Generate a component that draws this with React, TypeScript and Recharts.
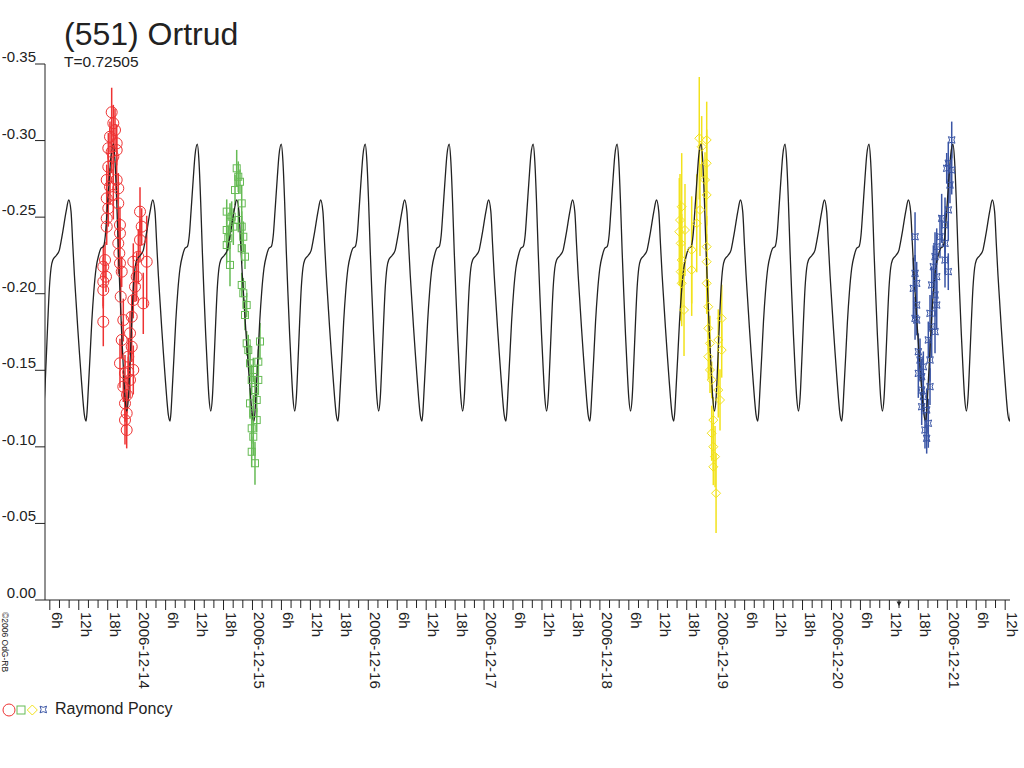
import { ComposedChart, Line, Scatter, XAxis, YAxis, ErrorBar } from 'recharts';

const TITLE = '(551) Ortrud';
const SUBTITLE = 'T=0.72505';
const OBSERVER = 'Raymond Poncy';
const CREDIT = '©2006 OdG-RB';

// time is in hours since 2006-12-13 00:00
const X_DOMAIN = [5, 205];
const Y_TICKS = [-0.35, -0.3, -0.25, -0.2, -0.15, -0.1, -0.05, 0];
const DAY_LABELS = ['2006-12-14', '2006-12-15', '2006-12-16', '2006-12-17', '2006-12-18', '2006-12-19', '2006-12-20', '2006-12-21'];
const MARK_HOUR = 182;

// model light curve: one rotation, phase 0 = primary maximum
const PERIOD_DAYS = 0.72505;
const MAX_HOUR = 53.97;
const profilePhase = [0, 0.02, 0.04, 0.06, 0.08, 0.1, 0.119, 0.139, 0.16, 0.179, 0.199, 0.219, 0.238, 0.258, 0.279, 0.318, 0.357, 0.377, 0.398, 0.437, 0.469, 0.496, 0.517, 0.536, 0.556, 0.576, 0.595, 0.615, 0.636, 0.655, 0.675, 0.687, 0.702, 0.723, 0.743, 0.767, 0.794, 0.826, 0.854, 0.881, 0.905, 0.925, 0.952, 0.973];
const profileMag = [-0.2976, -0.2862, -0.2601, -0.2274, -0.1992, -0.173, -0.1515, -0.1319, -0.1234, -0.1319, -0.1556, -0.1817, -0.2037, -0.2168, -0.222, -0.2248, -0.2285, -0.234, -0.2405, -0.2536, -0.2612, -0.2536, -0.2318, -0.2122, -0.1948, -0.1774, -0.1621, -0.1469, -0.1317, -0.1208, -0.1169, -0.123, -0.1382, -0.16, -0.1817, -0.2013, -0.2166, -0.2253, -0.2297, -0.2307, -0.2383, -0.2536, -0.2754, -0.2906];

// observations (Raymond Poncy), four sessions
const redHours = [18.82, 19.16, 19.51, 18.47, 19.86, 18.12, 18.82, 19.16, 19.86, 18.12, 17.79, 19.86, 18.47, 20.19, 17.79, 19.16, 20.19, 18.12, 17.79, 17.79, 17.44, 17.08, 17.64, 17.08, 17.08, 17.08, 20.54, 20.54, 20.19, 20.4, 20.54, 20.9, 20.69, 21.23, 20.9, 20.54, 21.58, 21.23, 21.58, 21.93, 21.58, 21.93, 22.62, 22.97, 22.26, 23.3, 22.62, 22.97, 23.3, 23.65, 24.0, 23.3, 24.34, 24.69, 25.04, 24.69, 26.08, 25.37, 22.0, 22.26];
const redMags = [-0.3185, -0.3113, -0.3069, -0.3025, -0.2982, -0.295, -0.2927, -0.2895, -0.2938, -0.2829, -0.2743, -0.2743, -0.2699, -0.2688, -0.2623, -0.2645, -0.259, -0.2558, -0.2492, -0.2438, -0.222, -0.2176, -0.2111, -0.2078, -0.2024, -0.1817, -0.2449, -0.2395, -0.2329, -0.2264, -0.2199, -0.2144, -0.1981, -0.1828, -0.1698, -0.1546, -0.148, -0.1393, -0.1284, -0.1219, -0.1175, -0.111, -0.1742, -0.1654, -0.1589, -0.1502, -0.1437, -0.185, -0.1959, -0.2046, -0.2111, -0.2209, -0.2242, -0.2351, -0.2438, -0.2536, -0.2209, -0.1937, -0.1339, -0.1489];
const redErr = [0.016, 0.012, 0.014, 0.01, 0.012, 0.01, 0.014, 0.012, 0.01, 0.012, 0.01, 0.014, 0.012, 0.01, 0.012, 0.016, 0.01, 0.012, 0.01, 0.012, 0.012, 0.014, 0.01, 0.016, 0.012, 0.016, 0.012, 0.01, 0.02, 0.012, 0.014, 0.01, 0.012, 0.014, 0.012, 0.016, 0.012, 0.01, 0.012, 0.014, 0.016, 0.012, 0.014, 0.01, 0.012, 0.016, 0.012, 0.014, 0.012, 0.01, 0.016, 0.012, 0.018, 0.014, 0.012, 0.016, 0.03, 0.02, 0.012, 0.01];

const greenHours = [44.73, 45.06, 45.41, 44.38, 45.77, 42.66, 43.69, 43.34, 45.06, 42.66, 44.03, 45.77, 42.99, 46.1, 42.66, 45.77, 46.45, 43.34, 45.77, 46.1, 46.8, 46.45, 46.8, 47.13, 47.49, 48.17, 47.84, 48.52, 47.49, 48.17, 48.88, 47.84, 48.17, 47.84, 48.52, 49.56, 49.21, 49.21, 48.88];
const greenMags = [-0.2819, -0.2764, -0.2731, -0.2677, -0.259, -0.2536, -0.2503, -0.247, -0.2481, -0.2416, -0.2438, -0.2438, -0.2362, -0.2372, -0.2318, -0.2297, -0.2242, -0.2188, -0.2057, -0.2003, -0.1926, -0.1861, -0.1676, -0.1632, -0.1546, -0.1502, -0.1437, -0.1371, -0.1284, -0.1219, -0.1175, -0.1121, -0.1066, -0.0968, -0.0893, -0.1688, -0.1556, -0.1437, -0.1306];
const greenErr = [0.012, 0.01, 0.008, 0.01, 0.012, 0.008, 0.01, 0.012, 0.008, 0.01, 0.012, 0.01, 0.008, 0.01, 0.012, 0.01, 0.008, 0.014, 0.008, 0.01, 0.008, 0.01, 0.008, 0.01, 0.012, 0.008, 0.01, 0.008, 0.01, 0.012, 0.008, 0.01, 0.012, 0.01, 0.014, 0.012, 0.008, 0.01, 0.008];

const yellowHours = [140.6, 142.14, 141.1, 142.14, 141.79, 142.14, 140.75, 136.96, 136.61, 136.46, 137.64, 140.07, 136.75, 139.03, 142.14, 136.96, 142.14, 136.75, 139.03, 136.96, 142.14, 137.44, 142.47, 142.47, 145.25, 142.82, 144.54, 142.47, 145.25, 142.82, 143.18, 144.54, 144.9, 143.51, 143.18, 143.51, 143.87, 143.51, 144.08];
const yellowMags = [-0.3015, -0.3004, -0.296, -0.2852, -0.2743, -0.2645, -0.2547, -0.2568, -0.2481, -0.2405, -0.2416, -0.246, -0.2329, -0.2286, -0.2307, -0.222, -0.2209, -0.2144, -0.2155, -0.2068, -0.2068, -0.1894, -0.1915, -0.1774, -0.1839, -0.1676, -0.1698, -0.1589, -0.1632, -0.1502, -0.1437, -0.1371, -0.1306, -0.1175, -0.1089, -0.1001, -0.0936, -0.087, -0.0697];
const yellowErr = [0.04, 0.025, 0.02, 0.022, 0.018, 0.02, 0.03, 0.035, 0.03, 0.035, 0.03, 0.032, 0.028, 0.035, 0.02, 0.03, 0.018, 0.032, 0.03, 0.028, 0.02, 0.03, 0.018, 0.015, 0.022, 0.018, 0.02, 0.015, 0.018, 0.015, 0.012, 0.018, 0.02, 0.015, 0.018, 0.015, 0.02, 0.012, 0.026];

const blueHours = [192.92, 192.21, 191.88, 192.92, 192.56, 192.21, 190.84, 191.53, 190.49, 191.53, 189.81, 189.46, 191.53, 192.21, 189.11, 189.81, 188.77, 189.46, 189.81, 188.42, 188.77, 189.46, 188.07, 185.32, 185.32, 185.66, 184.96, 185.66, 185.32, 185.66, 186.0, 186.35, 187.04, 186.0, 186.7, 188.42, 188.42, 186.7, 187.04, 187.73, 186.7, 188.07, 187.38, 187.73];
const blueMags = [-0.3004, -0.2852, -0.2819, -0.2808, -0.271, -0.2547, -0.2492, -0.2449, -0.2372, -0.2329, -0.2307, -0.2242, -0.222, -0.2144, -0.2176, -0.2111, -0.2057, -0.1992, -0.1926, -0.1872, -0.1785, -0.1752, -0.1698, -0.2372, -0.2133, -0.2068, -0.2035, -0.1926, -0.1839, -0.1828, -0.1621, -0.1567, -0.1523, -0.148, -0.1458, -0.1567, -0.1393, -0.1371, -0.1328, -0.1241, -0.1262, -0.1154, -0.111, -0.1056];
const blueErr = [0.012, 0.014, 0.01, 0.016, 0.012, 0.02, 0.016, 0.018, 0.014, 0.02, 0.012, 0.016, 0.018, 0.012, 0.014, 0.02, 0.012, 0.014, 0.016, 0.012, 0.02, 0.014, 0.012, 0.016, 0.012, 0.014, 0.02, 0.012, 0.014, 0.01, 0.012, 0.014, 0.01, 0.016, 0.012, 0.014, 0.012, 0.016, 0.01, 0.014, 0.012, 0.016, 0.012, 0.01];

const RED = '#ee3333';
const GREEN = '#66bb55';
const YELLOW = '#f2e21c';
const BLUE = '#3a55a5';
const INK = '#222';
const FONT = '"Liberation Sans", Arial, sans-serif';

const toPoints = (hs: number[], vs: number[], es: number[]) =>
  hs.map((h, i) => ({ h, v: vs[i], e: es[i] }));

const PERIOD_H = PERIOD_DAYS * 24;
const modelData: { h: number; v: number }[] = [];
for (let k = -3; k <= 8; k++) {
  profilePhase.forEach((ph, i) => {
    modelData.push({ h: MAX_HOUR + (k + ph) * PERIOD_H, v: profileMag[i] });
  });
}

const xTicks: number[] = [];
for (let hr = 6; hr <= 204; hr += 2) xTicks.push(hr);

const CircleMark = (p: any) => <circle cx={p.cx} cy={p.cy} r={5.5} fill="none" stroke={RED} />;
const SquareMark = (p: any) => (
  <rect x={p.cx - 3.5} y={p.cy - 3.5} width={7} height={7} fill="none" stroke={GREEN} />
);
const diamondPath = (x: number, y: number, s: number) =>
  `M${x},${y - s}L${x + s},${y}L${x},${y + s}L${x - s},${y}Z`;
const DiamondMark = (p: any) => <path d={diamondPath(p.cx, p.cy, 4.5)} fill="none" stroke={YELLOW} />;
const starPath = (x: number, y: number) =>
  `M${x - 3.3},${y - 3.3}Q${x},${y - 1} ${x + 3.3},${y - 3.3}Q${x + 1},${y} ${x + 3.3},${y + 3.3}Q${x},${y + 1} ${x - 3.3},${y + 3.3}Q${x - 1},${y} ${x - 3.3},${y - 3.3}Z`;
const StarMark = (p: any) => <path d={starPath(p.cx, p.cy)} fill="none" stroke={BLUE} />;

const XTick = ({ x, y, payload }: any) => {
  const hr = payload.value;
  const hod = hr % 24;
  const major = hod % 6 === 0;
  const label = !major ? null : hod === 0 ? DAY_LABELS[hr / 24 - 1] : `${hod}h`;
  return (
    <g>
      <line x1={x} y1={y} x2={x} y2={y + (major ? 10 : 8)} stroke={INK} />
      {hr === MARK_HOUR && <path d={`M${x - 2.5},${y + 1.5}L${x + 2.5},${y + 1.5}L${x},${y + 6}Z`} fill={INK} />}
      {label && (
        <text
          x={x + 2}
          y={y + 12}
          transform={`rotate(90 ${x + 2} ${y + 12})`}
          fontSize={15}
          fontFamily={FONT}
          fill={INK}
        >
          {label}
        </text>
      )}
    </g>
  );
};

const YTick = ({ x, y, payload }: any) => (
  <g>
    <line x1={x - 10} y1={y} x2={x} y2={y} stroke={INK} />
    <text x={x - 9} y={y - 2} textAnchor="end" fontSize={15} fontFamily={FONT} fill={INK}>
      {payload.value.toFixed(2)}
    </text>
  </g>
);

export default function App() {
  return (
    <div style={{ position: 'absolute', left: 0, top: 0, width: 1024, height: 768, background: '#fff' }}>
      <ComposedChart width={1024} height={768} margin={{ top: 64, right: 14, bottom: 0, left: 0 }}>
        <XAxis
          dataKey="h"
          type="number"
          domain={X_DOMAIN}
          allowDataOverflow
          ticks={xTicks}
          interval={0}
          tick={<XTick />}
          tickLine={false}
          tickSize={0}
          tickMargin={0}
          height={168}
          stroke={INK}
        />
        <YAxis
          dataKey="v"
          type="number"
          domain={[-0.35, 0]}
          reversed
          allowDataOverflow
          ticks={Y_TICKS}
          interval={0}
          tick={<YTick />}
          tickLine={false}
          tickSize={0}
          tickMargin={0}
          width={45}
          stroke={INK}
        />
        <Scatter data={toPoints(redHours, redMags, redErr)} dataKey="v" shape={<CircleMark />} isAnimationActive={false}>
          <ErrorBar dataKey="e" direction="y" width={0} stroke={RED} isAnimationActive={false} />
        </Scatter>
        <Scatter data={toPoints(greenHours, greenMags, greenErr)} dataKey="v" shape={<SquareMark />} isAnimationActive={false}>
          <ErrorBar dataKey="e" direction="y" width={0} stroke={GREEN} isAnimationActive={false} />
        </Scatter>
        <Scatter data={toPoints(yellowHours, yellowMags, yellowErr)} dataKey="v" shape={<DiamondMark />} isAnimationActive={false}>
          <ErrorBar dataKey="e" direction="y" width={0} stroke={YELLOW} isAnimationActive={false} />
        </Scatter>
        <Scatter data={toPoints(blueHours, blueMags, blueErr)} dataKey="v" shape={<StarMark />} isAnimationActive={false}>
          <ErrorBar dataKey="e" direction="y" width={0} stroke={BLUE} isAnimationActive={false} />
        </Scatter>
        <Line
          data={modelData}
          dataKey="v"
          type="monotone"
          stroke={INK}
          strokeWidth={1.3}
          dot={false}
          activeDot={false}
          isAnimationActive={false}
        />
      </ComposedChart>
      <svg width={1024} height={768} style={{ position: 'absolute', left: 0, top: 0, pointerEvents: 'none' }}>
        <text x={64} y={45} fontSize={32} fontFamily={FONT} fill={INK}>{TITLE}</text>
        <text x={64} y={67} fontSize={15.5} fontFamily={FONT} fill={INK}>{SUBTITLE}</text>
        <text x={2} y={612} transform="rotate(90 2 612)" fontSize={8.5} fontFamily={FONT} fill={INK}>{CREDIT}</text>
        <circle cx={9} cy={710} r={6} fill="none" stroke={RED} />
        <rect x={17} y={706} width={8} height={8} fill="none" stroke={GREEN} />
        <path d={diamondPath(32.3, 710, 5)} fill="none" stroke={YELLOW} />
        <path d={starPath(43.3, 709.5)} fill="none" stroke={BLUE} />
        <text x={55} y={714} fontSize={16} fontFamily={FONT} fill={INK}>{OBSERVER}</text>
      </svg>
    </div>
  );
}
